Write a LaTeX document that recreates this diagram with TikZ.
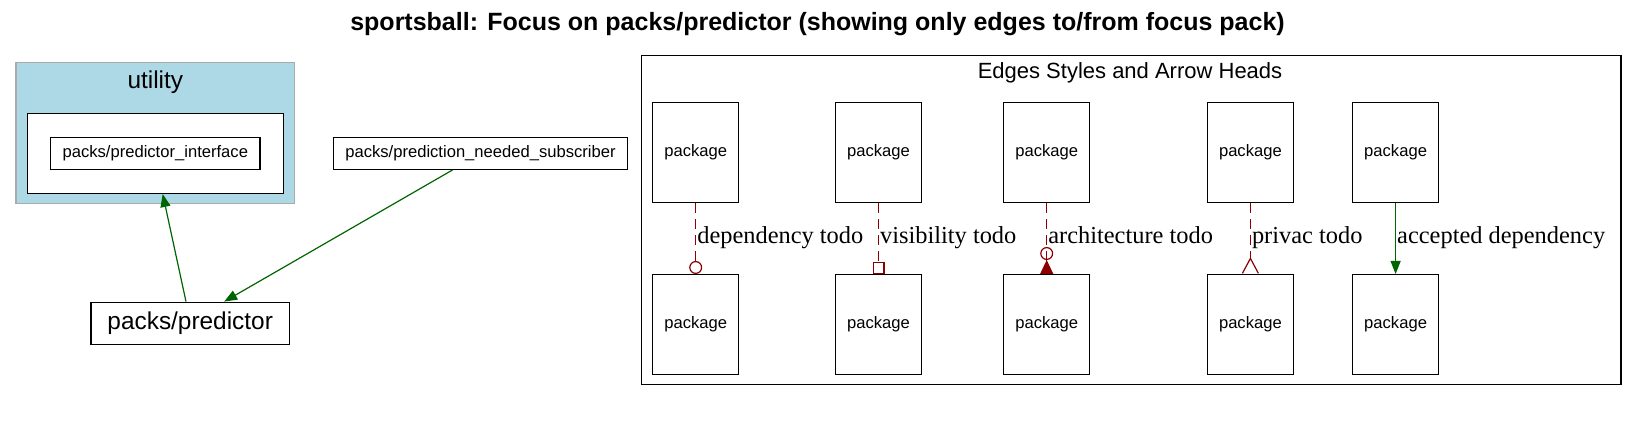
\documentclass[tikz,border=0pt]{standalone}
\usepackage{fontspec}
\setmainfont{Liberation Sans}
\newfontfamily\edgefont{Liberation Serif}
\usetikzlibrary{arrows.meta, positioning}
\definecolor{okgreen}{HTML}{006400}
\definecolor{todored}{HTML}{8B0000}
\definecolor{utilityblue}{HTML}{ADD8E6}
\definecolor{utilitygray}{HTML}{AAAAAA}
\tikzstyle{cluster} = [rectangle, draw=utilitygray, fill=utilityblue, line width=0.7pt, inner sep=0pt]
\tikzstyle{groupbox} = [rectangle, draw=black, fill=white, line width=0.7pt, inner sep=0pt]
\tikzstyle{pack} = [rectangle, draw=black, fill=white, line width=0.7pt, inner xsep=5.9pt, inner ysep=0pt, minimum height=16pt, font=\fontsize{8.3}{10}\selectfont]
\tikzstyle{focuspack} = [pack, inner xsep=8.2pt, minimum height=21pt, font=\fontsize{12.2}{14}\selectfont]
\tikzstyle{legendpack} = [rectangle, draw=black, line width=0.7pt, minimum width=43pt, minimum height=50pt, inner sep=0pt, font=\fontsize{8.3}{10}\selectfont]
\tikzstyle{arrow} = [okgreen, line width=0.6pt, -{Triangle[length=6.5pt, width=5pt]}]
\tikzstyle{todo} = [todored, line width=0.6pt, dash pattern=on 5pt off 3pt]
\tikzstyle{edgelabel} = [text=black, anchor=base west, inner sep=0.5pt, yshift=-2.5pt, font=\edgefont\fontsize{12.2}{14}\selectfont]

\begin{document}
\begin{tikzpicture}[x=0.5pt, y=-0.5pt]
    \useasboundingbox (0,0) rectangle (1638,431);
    \node (title) [anchor=base, font=\bfseries\fontsize{12.5}{15}\selectfont] at (817.5,31) {sportsball: Focus on packs/predictor (showing only edges to/from focus pack)};

    % utility cluster
    \node (utility) [cluster, minimum width=139.3pt, minimum height=70.5pt] at (155.3,133.2) {};
    \node (utilitylabel) [anchor=base, font=\fontsize{12.2}{14}\selectfont] at (155.3,89) {utility};
    \node (utilitybox) [groupbox, minimum width=128pt, minimum height=40pt] at (155.3,153.3) {};
    \node (interface) [pack] at (155.3,153.3) {packs/predictor\_interface};

    \node (subscriber) [pack] at (480.5,153.3) {packs/prediction\_needed\_subscriber};
    \node (predictor) [focuspack] at (190.2,323.3) {packs/predictor};

    \draw [arrow] ([xshift=-2.1pt]predictor.north) -- ([xshift=3.7pt]utilitybox.south);
    \draw [arrow] ([xshift=-14pt]subscriber.south) -- ([xshift=17pt]predictor.north);

    % legend
    \node (legend) [groupbox, minimum width=489.75pt, minimum height=164.7pt] at (1131.3,220) {};
    \node (legendlabel) [anchor=base, font=\fontsize{11}{13}\selectfont] at (1130,78.3) {Edges Styles and Arrow Heads};

    \node (deptop) [legendpack] at (695.7,152.7) {package};
    \node (depbottom) [legendpack, below=35.3pt of deptop] {package};
    \node (vistop) [legendpack] at (878.5,152.7) {package};
    \node (visbottom) [legendpack, below=35.3pt of vistop] {package};
    \node (archtop) [legendpack] at (1046.7,152.7) {package};
    \node (archbottom) [legendpack, below=35.3pt of archtop] {package};
    \node (privtop) [legendpack] at (1250.4,152.7) {package};
    \node (privbottom) [legendpack, below=35.3pt of privtop] {package};
    \node (oktop) [legendpack] at (1395.6,152.7) {package};
    \node (okbottom) [legendpack, below=35.3pt of oktop] {package};

    \draw [todo, -{Circle[open, length=6.5pt, width=6.5pt]}] (deptop) -- node [edgelabel] {dependency todo} (depbottom);
    \draw [todo, -{Square[open, length=6pt, width=6pt]}] (vistop) -- node [edgelabel] {visibility todo} (visbottom);
    \draw [todo, -{Circle[open, length=6.5pt, width=6.5pt, sep=0pt] Triangle[reversed, length=7pt, width=6.5pt]}] (archtop) -- node [edgelabel] {architecture todo} (archbottom);
    \draw [todo, -{Straight Barb[reversed, length=7.5pt, width=8pt]}] (privtop) -- node [edgelabel] {privac todo} (privbottom);
    \draw [arrow] (oktop) -- node [edgelabel] {accepted dependency} (okbottom);
\end{tikzpicture}
\end{document}
